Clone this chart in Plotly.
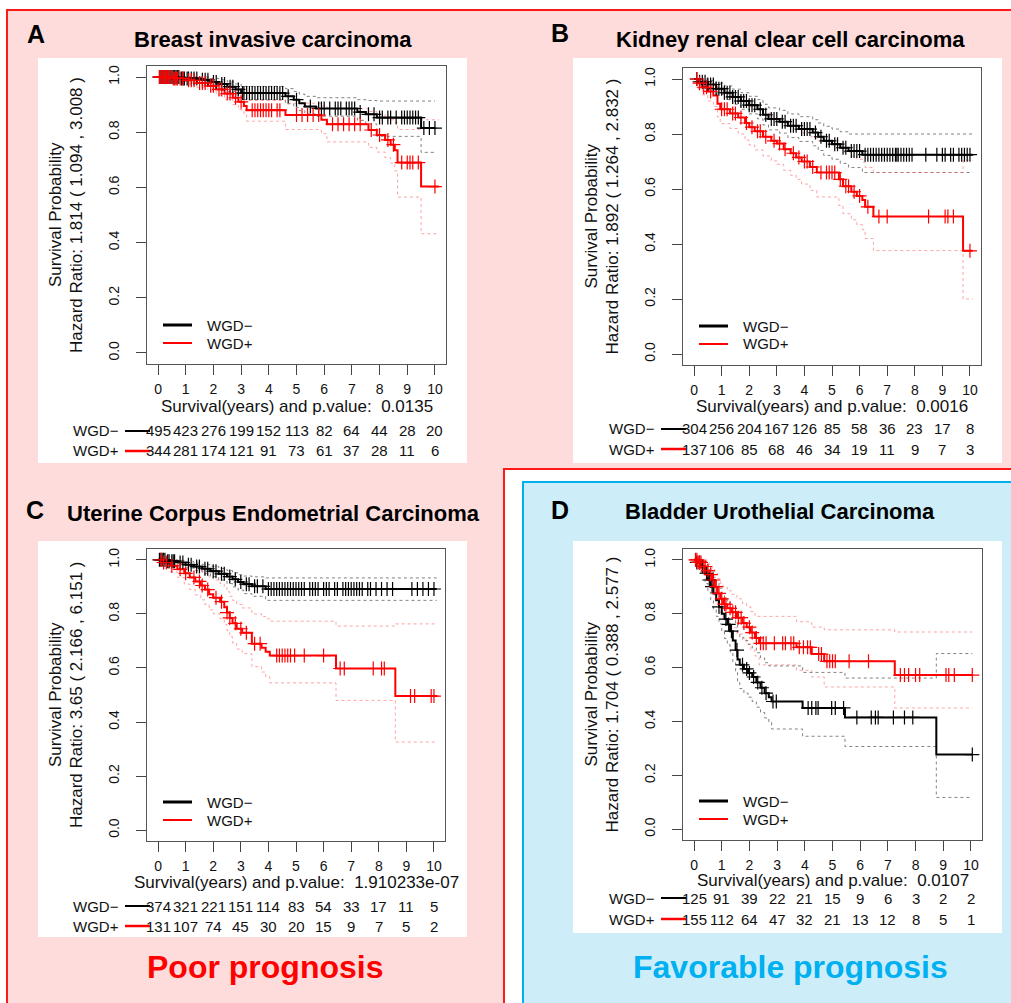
import plotly.graph_objects as go

W, H = 1011, 1003
FONT = "Liberation Sans, Arial, Helvetica, sans-serif"

# ------------------------------------------------------------------ data
years = list(range(11))
y_ticks = [0.0, 0.2, 0.4, 0.6, 0.8, 1.0]
y_tick_labels = ["0.0", "0.2", "0.4", "0.6", "0.8", "1.0"]
group_labels = ["WGD\u2212", "WGD+"]

panel_letters = ["A", "B", "C", "D"]
panel_titles = ["Breast invasive carcinoma", "Kidney renal clear cell carcinoma",
                "Uterine Corpus Endometrial Carcinoma", "Bladder Urothelial Carcinoma"]
hazard_texts = ["Hazard Ratio: 1.814 ( 1.094 , 3.008 )",
                "Hazard Ratio: 1.892 ( 1.264 , 2.832 )",
                "Hazard Ratio: 3.65 ( 2.166 , 6.151 )",
                "Hazard Ratio: 1.704 ( 0.388 , 2.577 )"]
p_values = ["0.0135", "0.0016", "1.910233e-07", "0.0107"]
prognosis_labels = ["Poor prognosis", "Favorable prognosis"]

# --- A: Breast invasive carcinoma
A_neg_t = [0, 0.8, 1.5, 1.9, 2.2, 2.5, 2.8, 3.0, 4.6, 4.9, 5.1, 5.3, 5.7, 7.2, 7.5, 7.9, 9.5]
A_neg_s = [1.0, 0.995, 0.99, 0.982, 0.975, 0.965, 0.955, 0.942, 0.93, 0.918, 0.905, 0.893, 0.886, 0.873, 0.865, 0.853, 0.815]
A_neg_hi = [1.0, 1.0, 1.0, 0.995, 0.99, 0.982, 0.975, 0.966, 0.958, 0.948, 0.938, 0.93, 0.925, 0.918, 0.915, 0.913, 0.913]
A_neg_lo = [1.0, 0.99, 0.98, 0.97, 0.96, 0.948, 0.935, 0.918, 0.903, 0.89, 0.878, 0.866, 0.858, 0.843, 0.83, 0.785, 0.727]
A_neg_end = 10.0
A_neg_cens = [0.05, 0.1, 0.15, 0.2, 0.25, 0.3, 0.35, 0.4, 0.45, 0.5, 0.55, 0.6, 0.65, 0.7, 0.75, 0.85, 0.9, 0.95,
              1.05, 1.1, 1.2, 1.3, 1.4, 1.6, 1.7, 1.8, 2.0, 2.1, 2.3, 2.4, 2.6, 2.7, 2.9, 3.05, 3.1, 3.2, 3.3,
              3.4, 3.5, 3.6, 3.7, 3.8, 3.9, 4.0, 4.1, 4.2, 4.3, 4.4, 4.5, 4.7, 5.0, 5.5, 5.8, 5.9, 6.0, 6.2,
              6.4, 6.5, 6.6, 6.8, 6.9, 7.0, 7.1, 7.3, 7.6, 7.8, 8.0, 8.1, 8.3, 8.4, 8.6, 8.8, 8.9, 9.0, 9.1,
              9.2, 9.3, 9.4, 9.6, 9.8, 10.0]
A_pos_t = [0, 0.5, 1.0, 1.4, 1.8, 2.1, 2.4, 2.7, 2.9, 3.1, 3.2, 4.6, 5.9, 6.1, 7.6, 7.9, 8.2, 8.4, 8.55, 8.65, 9.5]
A_pos_s = [1.0, 0.995, 0.988, 0.978, 0.968, 0.955, 0.94, 0.925, 0.91, 0.895, 0.88, 0.862, 0.845, 0.829, 0.808, 0.79, 0.772, 0.755, 0.735, 0.69, 0.603]
A_pos_hi = [1.0, 1.0, 1.0, 0.992, 0.985, 0.975, 0.963, 0.95, 0.94, 0.928, 0.915, 0.905, 0.895, 0.885, 0.875, 0.865, 0.855, 0.845, 0.835, 0.81, 0.845]
A_pos_lo = [1.0, 0.985, 0.975, 0.962, 0.95, 0.935, 0.918, 0.9, 0.882, 0.863, 0.84, 0.81, 0.795, 0.765, 0.745, 0.728, 0.708, 0.688, 0.66, 0.565, 0.432]
A_pos_end = 10.15
A_pos_cens = [0.05, 0.1, 0.15, 0.2, 0.25, 0.3, 0.35, 0.4, 0.45, 0.55, 0.6, 0.65, 0.7, 0.8, 0.9, 1.1, 1.2, 1.3,
              1.5, 1.6, 1.7, 1.9, 2.0, 2.2, 2.3, 2.5, 2.6, 2.8, 3.0, 3.4, 3.5, 3.6, 3.7, 3.8, 3.9, 4.0, 4.1,
              4.3, 4.4, 5.0, 5.2, 5.4, 5.6, 5.8, 6.3, 6.5, 6.7, 6.9, 7.1, 7.3, 7.7, 8.0, 8.3, 8.5, 8.8, 9.0,
              9.1, 9.2, 9.4, 10.0]
A_neg_risk = [495, 423, 276, 199, 152, 113, 82, 64, 44, 28, 20]
A_pos_risk = [344, 281, 174, 121, 91, 73, 61, 37, 28, 11, 6]

# --- B: Kidney renal clear cell carcinoma
B_neg_t = [0, 0.2, 0.5, 0.8, 1.1, 1.4, 1.7, 2.0, 2.3, 2.5, 2.7, 3.1, 3.4, 3.8, 4.3, 4.5, 4.7, 5.0, 5.3, 5.6, 6.1]
B_neg_s = [1.0, 0.99, 0.98, 0.965, 0.95, 0.935, 0.92, 0.905, 0.89, 0.87, 0.855, 0.845, 0.83, 0.818, 0.805, 0.79, 0.775, 0.763, 0.75, 0.738, 0.725]
B_neg_hi = [1.0, 1.0, 0.995, 0.985, 0.975, 0.963, 0.95, 0.937, 0.925, 0.908, 0.895, 0.886, 0.873, 0.863, 0.852, 0.84, 0.828, 0.818, 0.808, 0.8, 0.8]
B_neg_lo = [1.0, 0.978, 0.963, 0.945, 0.925, 0.908, 0.89, 0.873, 0.855, 0.833, 0.815, 0.803, 0.787, 0.773, 0.757, 0.74, 0.722, 0.708, 0.693, 0.678, 0.66]
B_neg_end = 10.1
B_neg_cens = [0.1, 0.2, 0.3, 0.4, 0.5, 0.6, 0.7, 0.8, 0.9, 1.0, 1.1, 1.2, 1.3, 1.4, 1.5, 1.6, 1.7, 1.8, 1.9, 2.0,
              2.1, 2.2, 2.4, 2.6, 2.8, 2.9, 3.0, 3.2, 3.3, 3.5, 3.6, 3.7, 3.9, 4.0, 4.1, 4.2, 4.4, 4.6, 4.8,
              4.9, 5.1, 5.2, 5.4, 5.5, 5.7, 5.8, 5.9, 6.0, 6.2, 6.3, 6.4, 6.5, 6.6, 6.7, 6.8, 6.9, 7.0, 7.1,
              7.2, 7.3, 7.35, 7.4, 7.5, 7.6, 7.7, 7.8, 7.9, 8.4, 8.8, 9.0, 9.1, 9.3, 9.4, 9.6, 9.7, 9.8, 9.9, 10.0]
B_pos_t = [0, 0.15, 0.3, 0.5, 0.7, 0.85, 0.95, 1.3, 1.6, 1.85, 2.0, 2.2, 2.5, 2.8, 3.0, 3.25, 3.5, 3.7, 3.9, 4.2,
           4.45, 5.25, 5.4, 5.7, 5.9, 6.1, 6.2, 6.5, 9.75]
B_pos_s = [1.0, 0.985, 0.97, 0.955, 0.94, 0.91, 0.89, 0.875, 0.86, 0.84, 0.825, 0.81, 0.79, 0.775, 0.765, 0.745,
           0.73, 0.715, 0.7, 0.68, 0.66, 0.635, 0.61, 0.59, 0.575, 0.56, 0.535, 0.5, 0.375]
B_pos_hi = [1.0, 1.0, 1.0, 0.99, 0.98, 0.96, 0.945, 0.935, 0.925, 0.91, 0.9, 0.89, 0.875, 0.862, 0.855, 0.84,
            0.828, 0.818, 0.805, 0.79, 0.775, 0.755, 0.735, 0.72, 0.708, 0.698, 0.678, 0.66, 0.705]
B_pos_lo = [1.0, 0.965, 0.942, 0.92, 0.9, 0.862, 0.838, 0.82, 0.8, 0.778, 0.76, 0.742, 0.72, 0.702, 0.69, 0.668,
            0.65, 0.635, 0.618, 0.595, 0.571, 0.54, 0.51, 0.488, 0.47, 0.452, 0.42, 0.376, 0.2]
B_pos_end = 10.1
B_pos_cens = [0.1, 0.2, 0.35, 0.45, 0.6, 1.0, 1.1, 1.2, 1.4, 1.5, 1.7, 1.9, 2.1, 2.3, 2.4, 2.6, 2.9, 3.1, 3.3,
              3.6, 3.8, 4.0, 4.1, 4.3, 4.6, 4.8, 4.9, 5.0, 5.1, 5.3, 5.5, 5.6, 5.8, 6.0, 6.3, 6.7, 7.0, 8.5,
              9.1, 9.2, 9.4, 10.0]
B_neg_risk = [304, 256, 204, 167, 126, 85, 58, 36, 23, 17, 8]
B_pos_risk = [137, 106, 85, 68, 46, 34, 19, 11, 9, 7, 3]

# --- C: Uterine Corpus Endometrial Carcinoma
C_neg_t = [0, 0.3, 0.7, 1.0, 1.3, 1.6, 1.9, 2.2, 2.5, 2.7, 2.9, 3.1, 3.4, 3.9]
C_neg_s = [1.0, 0.995, 0.99, 0.982, 0.975, 0.967, 0.958, 0.948, 0.938, 0.928, 0.918, 0.91, 0.902, 0.892]
C_neg_hi = [1.0, 1.0, 0.998, 0.993, 0.988, 0.982, 0.976, 0.968, 0.96, 0.952, 0.945, 0.94, 0.937, 0.933]
C_neg_lo = [1.0, 0.988, 0.98, 0.97, 0.96, 0.95, 0.938, 0.925, 0.912, 0.9, 0.888, 0.875, 0.865, 0.85]
C_neg_end = 10.1
C_neg_cens = [0.05, 0.1, 0.15, 0.2, 0.25, 0.35, 0.4, 0.5, 0.55, 0.6, 0.8, 0.9, 1.1, 1.2, 1.4, 1.5, 1.7, 1.8,
              2.0, 2.1, 2.3, 2.4, 2.6, 2.8, 3.0, 3.2, 3.3, 3.5, 3.6, 3.8, 4.0, 4.1, 4.2, 4.3, 4.4, 4.5, 4.6,
              4.7, 4.8, 4.9, 5.0, 5.1, 5.2, 5.3, 5.5, 5.6, 5.7, 5.8, 6.0, 6.1, 6.2, 6.4, 6.5, 6.7, 6.8, 6.9,
              7.0, 7.1, 7.2, 7.3, 7.4, 7.6, 7.7, 7.9, 8.1, 8.3, 8.5, 9.2, 9.4, 9.6, 9.8, 10.0]
C_pos_t = [0, 0.2, 0.45, 0.7, 0.95, 1.15, 1.35, 1.55, 1.7, 1.85, 2.0, 2.25, 2.4, 2.5, 2.6, 2.7, 2.85, 3.05,
           3.4, 3.75, 3.9, 4.05, 6.45, 8.6]
C_pos_s = [1.0, 0.99, 0.978, 0.965, 0.95, 0.935, 0.92, 0.905, 0.89, 0.873, 0.86, 0.845, 0.825, 0.805, 0.785,
           0.765, 0.745, 0.73, 0.69, 0.675, 0.66, 0.646, 0.598, 0.496]
C_pos_hi = [1.0, 1.0, 1.0, 0.995, 0.99, 0.978, 0.968, 0.958, 0.945, 0.935, 0.925, 0.912, 0.897, 0.882, 0.865,
            0.85, 0.835, 0.822, 0.8, 0.79, 0.782, 0.773, 0.755, 0.763]
C_pos_lo = [1.0, 0.97, 0.955, 0.935, 0.91, 0.89, 0.87, 0.852, 0.835, 0.815, 0.8, 0.782, 0.76, 0.738, 0.715,
            0.693, 0.67, 0.653, 0.605, 0.585, 0.568, 0.545, 0.48, 0.326]
C_pos_end = 10.1
C_pos_cens = [0.1, 0.2, 0.3, 0.5, 0.8, 1.0, 1.3, 1.5, 1.6, 1.8, 2.1, 2.3, 2.5, 2.6, 2.8, 3.0, 3.2, 3.5, 3.7,
              4.3, 4.4, 4.5, 4.6, 4.7, 4.8, 4.95, 5.3, 6.0, 6.6, 6.75, 7.8, 8.1, 8.2, 9.15, 9.3, 9.9, 10.0]
C_neg_risk = [374, 321, 221, 151, 114, 83, 54, 33, 17, 11, 5]
C_pos_risk = [131, 107, 74, 45, 30, 20, 15, 9, 7, 5, 2]

# --- D: Bladder Urothelial Carcinoma
D_neg_t = [0, 0.1, 0.25, 0.4, 0.5, 0.6, 0.7, 0.8, 0.9, 1.0, 1.1, 1.2, 1.3, 1.4, 1.5, 1.57, 1.65, 1.8, 1.95,
           2.1, 2.25, 2.4, 2.55, 2.7, 2.8, 3.92, 5.45, 8.75]
D_neg_s = [1.0, 0.99, 0.975, 0.95, 0.925, 0.9, 0.875, 0.85, 0.825, 0.8, 0.78, 0.76, 0.735, 0.7, 0.665, 0.63,
           0.61, 0.595, 0.58, 0.565, 0.545, 0.525, 0.505, 0.49, 0.474, 0.45, 0.415, 0.277]
D_neg_hi = [1.0, 1.0, 1.0, 0.99, 0.972, 0.955, 0.935, 0.915, 0.895, 0.875, 0.858, 0.842, 0.82, 0.792, 0.762,
            0.73, 0.712, 0.7, 0.686, 0.673, 0.655, 0.636, 0.618, 0.606, 0.606, 0.582, 0.561, 0.652]
D_neg_lo = [1.0, 0.975, 0.948, 0.912, 0.88, 0.848, 0.818, 0.79, 0.762, 0.732, 0.708, 0.685, 0.658, 0.62, 0.582,
            0.545, 0.522, 0.505, 0.49, 0.474, 0.453, 0.433, 0.413, 0.397, 0.372, 0.345, 0.307, 0.118]
D_neg_end = 10.05
D_neg_cens = [0.1, 0.2, 0.3, 0.45, 0.55, 0.65, 0.9, 1.15, 1.25, 1.35, 1.55, 1.75, 1.9, 2.0, 2.15, 2.3, 2.45,
              2.6, 2.85, 2.97, 4.12, 4.25, 4.4, 4.48, 4.97, 5.1, 5.4, 5.88, 6.4, 6.55, 6.65, 7.2, 7.6, 7.9, 10.05]
D_pos_t = [0, 0.15, 0.3, 0.45, 0.55, 0.65, 0.75, 0.85, 0.95, 1.05, 1.2, 1.35, 1.55, 1.75, 1.9, 2.05, 2.2, 2.35,
           3.7, 4.25, 4.7, 7.25]
D_pos_s = [1.0, 0.99, 0.975, 0.96, 0.945, 0.925, 0.9, 0.875, 0.855, 0.835, 0.82, 0.805, 0.785, 0.765, 0.75,
           0.73, 0.71, 0.69, 0.675, 0.65, 0.623, 0.572]
D_pos_hi = [1.0, 1.0, 1.0, 0.992, 0.982, 0.968, 0.95, 0.93, 0.913, 0.898, 0.885, 0.872, 0.855, 0.838, 0.825,
            0.808, 0.79, 0.79, 0.77, 0.75, 0.74, 0.732]
D_pos_lo = [1.0, 0.975, 0.952, 0.93, 0.91, 0.885, 0.855, 0.828, 0.805, 0.782, 0.765, 0.748, 0.725, 0.703, 0.687,
            0.665, 0.643, 0.61, 0.59, 0.565, 0.528, 0.45]
D_pos_end = 10.05
D_pos_cens = [0.05, 0.1, 0.15, 0.2, 0.25, 0.35, 0.4, 0.5, 0.6, 0.7, 0.8, 0.9, 1.0, 1.1, 1.15, 1.3, 1.4, 1.5,
              1.6, 1.7, 1.8, 2.0, 2.1, 2.25, 2.4, 2.5, 2.6, 2.9, 3.2, 3.3, 3.5, 3.6, 3.8, 3.95, 4.1, 4.2, 4.5,
              4.6, 4.8, 4.9, 5.0, 5.1, 5.6, 6.3, 7.45, 7.6, 7.75, 8.0, 8.15, 9.1, 9.2, 9.4, 10.05]
D_neg_risk = [125, 91, 39, 22, 21, 15, 9, 6, 3, 2, 2]
D_pos_risk = [155, 112, 64, 47, 32, 21, 13, 12, 8, 5, 1]

panels_data = [
    (A_neg_t, A_neg_s, A_neg_hi, A_neg_lo, A_neg_end, A_neg_cens, A_pos_t, A_pos_s, A_pos_hi, A_pos_lo, A_pos_end, A_pos_cens, A_neg_risk, A_pos_risk),
    (B_neg_t, B_neg_s, B_neg_hi, B_neg_lo, B_neg_end, B_neg_cens, B_pos_t, B_pos_s, B_pos_hi, B_pos_lo, B_pos_end, B_pos_cens, B_neg_risk, B_pos_risk),
    (C_neg_t, C_neg_s, C_neg_hi, C_neg_lo, C_neg_end, C_neg_cens, C_pos_t, C_pos_s, C_pos_hi, C_pos_lo, C_pos_end, C_pos_cens, C_neg_risk, C_pos_risk),
    (D_neg_t, D_neg_s, D_neg_hi, D_neg_lo, D_neg_end, D_neg_cens, D_pos_t, D_pos_s, D_pos_hi, D_pos_lo, D_pos_end, D_pos_cens, D_neg_risk, D_pos_risk),
]

# ------------------------------------------------------------------ layout geometry (pixels)
# plot box: left, top, right, bottom
boxes = [(147, 66, 446, 364), (683, 68, 981, 365), (147, 549, 445, 841), (683, 549, 982, 840)]
white_boxes = [(38, 58, 467, 463), (573, 58, 1002, 463), (38, 541, 467, 937), (573, 541, 1002, 933)]
letter_pos = [(36, 34), (560, 33), (35, 510), (560, 510)]
title_pos = [(273, 40), (790, 40), (273, 513), (780, 512)]
xtitle_py = [406, 406, 882, 880]
risk_py = [(431, 451), (429, 449), (906, 926), (898, 919)]

BLACK = "#000000"
RED = "#FF0000"
PINK = "#FFDCDC"
PINK_BORDER = "#FF1A1A"
BLUE_BG = "#CDEEF9"
BLUE = "#00B0F0"
CI_GRAY = "rgba(90,90,90,0.75)"
CI_RED = "rgba(255,90,90,0.55)"
TXT = "#111111"


def X(px):
    return px / W


def Y(py):
    return 1 - py / H


def step_value(ts, ss, t):
    v = ss[0]
    for ti, si in zip(ts, ss):
        if ti <= t:
            v = si
        else:
            break
    return v


def text_ann(text, px, py, size=15, color=TXT, xanchor="center", angle=0):
    return dict(text=text, x=X(px), y=Y(py), xref="paper", yref="paper", xanchor=xanchor,
                yanchor="middle", textangle=angle, showarrow=False,
                font=dict(family=FONT, size=size, color=color))


fig = go.Figure()
shapes = []
ann = []

# backgrounds
pink_path = ("M {},{} L {},{} L {},{} L {},{} L {},{} L {},{} Z".format(
    X(7), Y(10), X(1016), Y(10), X(1016), Y(469), X(504), Y(469), X(504), Y(1008), X(7), Y(1008)))
shapes.append(dict(type="path", path=pink_path, xref="paper", yref="paper", fillcolor=PINK,
                   line=dict(color=PINK_BORDER, width=2), layer="below"))
shapes.append(dict(type="rect", xref="paper", yref="paper", x0=X(523), y0=Y(482), x1=X(1016), y1=Y(1010),
                   fillcolor=BLUE_BG, line=dict(color=BLUE, width=2), layer="below"))
for (l, t, r, b) in white_boxes:
    shapes.append(dict(type="rect", xref="paper", yref="paper", x0=X(l), y0=Y(t), x1=X(r), y1=Y(b),
                       fillcolor="white", line=dict(width=0), layer="below"))

tick_font = dict(family=FONT, size=14, color=TXT)
small_font = dict(family=FONT, size=15, color=TXT)

for i, pdat in enumerate(panels_data):
    (nt, ns, nhi, nlo, nend, ncens, pt, ps, phi, plo, pend, pcens, nrisk, prisk) = pdat
    n = i + 1
    xa = "x" if n == 1 else "x%d" % n
    ya = "y" if n == 1 else "y%d" % n
    l, t, r, b = boxes[i]

    fig.layout["xaxis" if n == 1 else "xaxis%d" % n] = dict(
        domain=[X(l), X(r)], range=[-0.4, 10.4], anchor=ya, tickvals=years,
        ticks="outside", ticklen=10, tickcolor="#444", tickwidth=1,
        showline=True, linecolor="#555", linewidth=1, mirror=True, ticklabelstandoff=2,
        showgrid=False, zeroline=False, tickfont=tick_font, fixedrange=True)
    fig.layout["yaxis" if n == 1 else "yaxis%d" % n] = dict(
        domain=[Y(b), Y(t)], range=[-0.04, 1.04], anchor=xa, tickvals=y_ticks, ticktext=y_tick_labels,
        tickangle=-90, ticks="outside", ticklen=10, tickcolor="#444", tickwidth=1,
        showline=True, linecolor="#555", linewidth=1, mirror=True, ticklabelstandoff=11,
        showgrid=False, zeroline=False, tickfont=tick_font, fixedrange=True)

    groups = [(nt, ns, nhi, nlo, nend, ncens, BLACK, CI_GRAY),
              (pt, ps, phi, plo, pend, pcens, RED, CI_RED)]
    # confidence bands
    for (gt, gs, ghi, glo, gend, gc, col, cicol) in groups:
        xs = gt + [gend]
        for band in (ghi, glo):
            fig.add_trace(go.Scatter(x=xs, y=band + [band[-1]], mode="lines", xaxis=xa, yaxis=ya,
                                     line=dict(color=cicol, width=1, dash="3px,3px", shape="hv"),
                                     hoverinfo="skip", showlegend=False))
    # curves
    for (gt, gs, ghi, glo, gend, gc, col, cicol) in groups:
        xs = gt + [gend]
        fig.add_trace(go.Scatter(x=xs, y=gs + [gs[-1]], mode="lines", xaxis=xa, yaxis=ya,
                                 line=dict(color=col, width=2, shape="hv"),
                                 hoverinfo="skip", showlegend=False))
    # censor marks
    for (gt, gs, ghi, glo, gend, gc, col, cicol) in groups:
        cy = [step_value(gt, gs, c) for c in gc]
        fig.add_trace(go.Scatter(x=gc, y=cy, mode="markers", xaxis=xa, yaxis=ya,
                                 marker=dict(symbol="cross-thin", size=10, line=dict(color=col, width=1.2)),
                                 hoverinfo="skip", showlegend=False))

    # in-plot legend
    for (lab, col, lw, dy) in [(group_labels[0], BLACK, 3, 39), (group_labels[1], RED, 2, 21)]:
        shapes.append(dict(type="line", xref="paper", yref="paper", x0=X(l + 16), x1=X(l + 45),
                           y0=Y(b - dy), y1=Y(b - dy), line=dict(color=col, width=lw)))
        ann.append(text_ann(lab, l + 58, b - dy, size=15, xanchor="left"))

    # y titles
    cy_box = (t + b) / 2
    ann.append(text_ann("Survival Probability", l - 92, cy_box, size=17, angle=-90))
    ann.append(text_ann(hazard_texts[i], l - 71, cy_box, size=17, angle=-90))
    # x title
    ann.append(text_ann("Survival(years) and p.value:  " + p_values[i], (l + r) / 2, xtitle_py[i], size=17))
    # risk table
    for (lab, col, lw, risk, rpy) in [(group_labels[0], BLACK, 2, nrisk, risk_py[i][0]),
                                      (group_labels[1], RED, 2.5, prisk, risk_py[i][1])]:
        ann.append(text_ann(lab, l - 26, rpy, size=15, xanchor="right"))
        shapes.append(dict(type="line", xref="paper", yref="paper", x0=X(l - 22), x1=X(l + 3),
                           y0=Y(rpy), y1=Y(rpy), line=dict(color=col, width=lw)))
        for yr, v in zip(years, risk):
            ann.append(dict(text=str(v), x=yr, y=Y(rpy), xref=xa, yref="paper", xanchor="center",
                            yanchor="middle", showarrow=False, font=small_font))
    # letters & titles
    ann.append(text_ann("<b>%s</b>" % panel_letters[i], letter_pos[i][0], letter_pos[i][1], size=25, color="#000"))
    ann.append(text_ann("<b>%s</b>" % panel_titles[i], title_pos[i][0], title_pos[i][1], size=22, color="#000"))

# prognosis labels
ann.append(text_ann("<b>%s</b>" % prognosis_labels[0], 265, 967, size=32, color=RED))
ann.append(text_ann("<b>%s</b>" % prognosis_labels[1], 790, 967, size=32, color=BLUE))

fig.update_layout(width=W, height=H, margin=dict(l=0, r=0, t=0, b=0),
                  paper_bgcolor="white", plot_bgcolor="white", showlegend=False,
                  shapes=shapes, annotations=ann)
fig.write_html("out.html", config={"displayModeBar": False},
               post_script="document.body.style.margin='0px';document.body.style.overflow='hidden';")
